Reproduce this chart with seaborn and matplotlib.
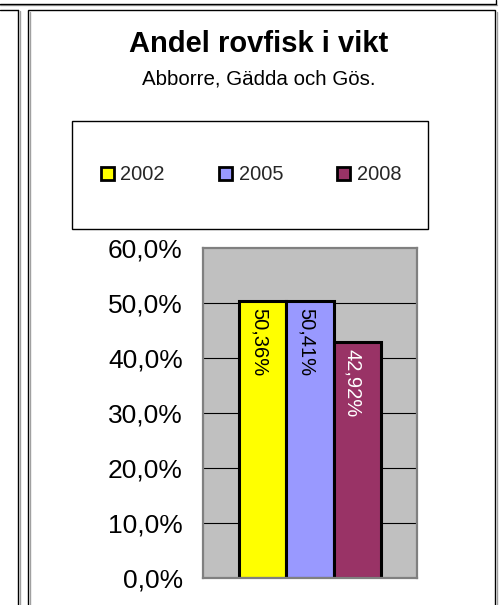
import matplotlib
matplotlib.use("Agg")
import matplotlib.pyplot as plt
import seaborn as sns
import pandas as pd
from matplotlib.patches import Rectangle
from matplotlib.lines import Line2D

# ---- data ----
years = ["2002", "2005", "2008"]
values = [50.36, 50.41, 42.92]
value_labels = ["50,36%", "50,41%", "42,92%"]
label_colors = ["black", "black", "white"]
bar_colors = ["#FFFF00", "#9999FF", "#993366"]
y_ticks = [0, 10, 20, 30, 40, 50, 60]
y_tick_labels = ["0,0%", "10,0%", "20,0%", "30,0%", "40,0%", "50,0%", "60,0%"]
title = "Andel rovfisk i vikt"
subtitle = "Abborre, Gädda och Gös."

sns.set_theme(style="white")
plt.rcParams["font.family"] = ["Liberation Sans", "DejaVu Sans"]

W, H = 499, 605
fig = plt.figure(figsize=(W / 100, H / 100), dpi=100)
fig.patch.set_facecolor("white")

def fx(px):
    return px / W

def fy(py):
    return 1 - py / H

def line(xs, ys, color="black", lw=1.0):
    fig.add_artist(Line2D([fx(x) for x in xs], [fy(y) for y in ys], color=color, lw=lw))

# outer frame lines (with light gray shadow)
line([0, 497], [5, 5], "#A0A0A0", 1.0)
line([0, 496], [4, 4])
line([496, 496], [0, 4])
line([0, 18], [10, 10])
line([20, 20], [11, 610], "#A0A0A0", 1.0)
line([18, 18], [10, 610])
line([30, 30], [12, 610], "#A0A0A0", 1.0)
line([497, 497], [12, 610], "#A0A0A0", 1.0)
fig.add_artist(Rectangle((fx(28), fy(610)), fx(495) - fx(28), fy(10) - fy(610),
                         transform=fig.transFigure, fill=False, edgecolor="black", lw=1.0))

# titles
fig.text(fx(259), fy(44), title, ha="center", va="center", fontsize=21, fontweight="bold", color="black")
fig.text(fx(259), fy(79), subtitle, ha="center", va="center", fontsize=14.8, color="black")

# legend box
fig.add_artist(Rectangle((fx(72), fy(229)), fx(428) - fx(72), fy(121) - fy(229),
                         transform=fig.transFigure, fill=False, edgecolor="black", lw=1.0))

# plot area
ax = fig.add_axes([fx(203), fy(578), fx(417) - fx(203), fy(248) - fy(578)])
df = pd.DataFrame({"grp": ["a"] * len(years), "year": years, "value": values})
sns.barplot(data=df, x="grp", y="value", hue="year", hue_order=years,
            palette=bar_colors, width=0.66, edgecolor="black", linewidth=2.2,
            saturation=1, ax=ax, legend=True)
ax.set_facecolor("#C0C0C0")
ax.set_xlim(-0.5, 0.5)
ax.set_ylim(0, 60)
ax.set_yticks(y_ticks)
ax.set_yticklabels(y_tick_labels, fontsize=19, color="black")
ax.set_xticks([])
ax.set_xlabel("")
ax.set_ylabel("")
ax.tick_params(axis="y", length=0, pad=14.5)
for t in y_ticks[1:-1]:
    ax.axhline(t, color="black", lw=0.8, zorder=0.5)
for s in ax.spines.values():
    s.set_visible(True)
    s.set_color("#808080")
    s.set_linewidth(1.6)

handles, labels = ax.get_legend_handles_labels()
ax.get_legend().remove()

bars = [p for p in ax.patches if p.get_height() > 0]
bars.sort(key=lambda p: p.get_x())
for p, lab, col in zip(bars, value_labels, label_colors):
    ax.annotate(lab, (p.get_x() + p.get_width() / 2, p.get_height()),
                xytext=(-3, -5), textcoords="offset points",
                ha="center", va="top", rotation=-90, fontsize=14.5, color=col)

for h in handles:
    h.set_edgecolor("black")
    h.set_linewidth(2)
fig.legend(handles, labels, loc="center", bbox_to_anchor=(fx(251), fy(175)),
           ncol=3, frameon=False, fontsize=14.4, handlelength=0.66, handleheight=0.66,
           handletextpad=0.33, columnspacing=2.7)

fig.savefig("out.png", dpi=100)
